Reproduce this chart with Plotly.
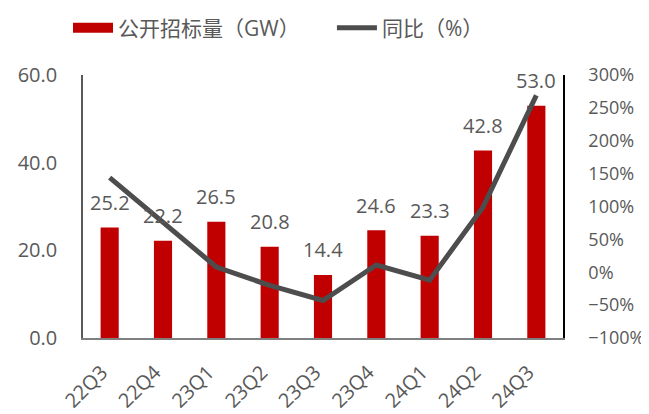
import plotly.graph_objects as go

quarters = ["22Q3", "22Q4", "23Q1", "23Q2", "23Q3", "23Q4", "24Q1", "24Q2", "24Q3"]
tender_gw = [25.2, 22.2, 26.5, 20.8, 14.4, 24.6, 23.3, 42.8, 53.0]
yoy_pct = [144, 76, 8, -20, -43, 11, -12, 99, 269]

RED = "#C00000"
GREY = "#4D4D4D"
TEXT = "#595959"
FONT = "Open Sans, Noto Sans CJK SC, sans-serif"

# page body has an 8px margin, so the figure is drawn 8px smaller
W, H = 641, 406

fig = go.Figure()

fig.add_trace(go.Bar(
    x=quarters,
    y=tender_gw,
    name="公开招标量（GW）",
    marker_color=RED,
    marker_line_width=0,
    yaxis="y",
    showlegend=False,
))

# wide red swatch for the bar series in the legend (nbsp pads the gap)
fig.add_trace(go.Scatter(
    x=[None], y=[None],
    name="公开招标量（GW）" + "\u00a0" * 5,
    mode="lines",
    line=dict(color=RED, width=12),
))

fig.add_trace(go.Scatter(
    x=quarters,
    y=yoy_pct,
    name="同比（%）",
    mode="lines",
    line=dict(color=GREY, width=5),
    yaxis="y2",
))

# value labels sit a bit above each bar
for q, v in zip(quarters, tender_gw):
    fig.add_annotation(
        x=q, y=v, yref="y", text=f"{v:.1f}",
        showarrow=False, yshift=25,
        font=dict(size=20, color=TEXT, family=FONT),
    )

fig.update_layout(
    width=W,
    height=H,
    margin=dict(l=75, r=86, t=67, b=76),
    plot_bgcolor="white",
    paper_bgcolor="white",
    font=dict(family=FONT, color=TEXT, size=19),
    bargap=0.66,
    showlegend=True,
    legend=dict(
        orientation="h",
        x=60 / W, xref="container", xanchor="left",
        y=1 - 20 / H, yref="container", yanchor="middle",
        font=dict(size=21, color=TEXT),
        itemwidth=40,
        tracegroupgap=0,
    ),
    xaxis=dict(
        tickangle=-45,
        showline=True, linecolor="#7F7F7F", linewidth=1.5,
        ticks="", showgrid=False, automargin=False,
        ticklabelstandoff=13, ticklabelshift=-8,
        tickfont=dict(size=20, color=TEXT),
    ),
    yaxis=dict(
        range=[0, 60], dtick=20, tickformat=".1f",
        showline=True, linecolor="#595959", linewidth=1.5,
        showgrid=False, zeroline=False, ticks="", automargin=False,
        ticklabelstandoff=20,
        tickfont=dict(size=20, color=TEXT),
    ),
    yaxis2=dict(
        range=[-100, 300], dtick=50, ticksuffix="%",
        overlaying="y", side="right",
        showline=True, linecolor="#000000", linewidth=1.5,
        showgrid=False, zeroline=False, ticks="", automargin=False,
        ticklabelstandoff=20,
        tickfont=dict(size=18, color=TEXT),
    ),
)

fig.write_html("out.html")
